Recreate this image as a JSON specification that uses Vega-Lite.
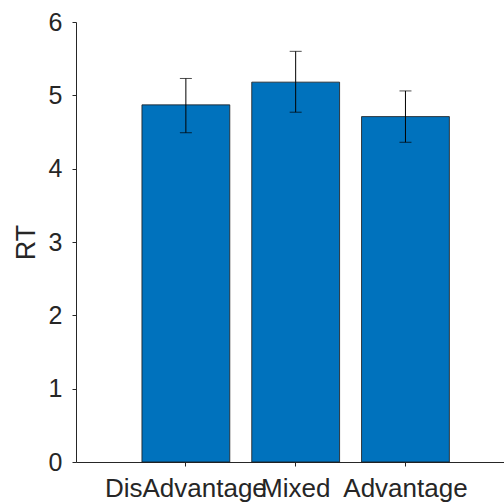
{
  "$schema": "https://vega.github.io/schema/vega-lite/v6.json",
  "width": 428,
  "height": 440,
  "autosize": {"type": "none"},
  "padding": {"left": 76, "top": 22, "right": 0, "bottom": 42},
  "background": "white",
  "config": {
    "view": {"stroke": null},
    "font": "Liberation Sans",
    "axis": {
      "domainColor": "#262626",
      "tickColor": "#262626",
      "labelColor": "#262626",
      "titleColor": "#262626",
      "labelFont": "Liberation Sans",
      "titleFont": "Liberation Sans",
      "grid": false,
      "domainWidth": 1,
      "tickWidth": 1,
      "tickSize": 4
    }
  },
  "data": {
    "values": [
      {"cond": "DisAdvantage", "rt": 4.87, "lo": 4.49, "hi": 5.23},
      {"cond": "Mixed", "rt": 5.18, "lo": 4.77, "hi": 5.6},
      {"cond": "Advantage", "rt": 4.71, "lo": 4.36, "hi": 5.06}
    ]
  },
  "encoding": {
    "x": {
      "field": "cond",
      "type": "nominal",
      "sort": ["DisAdvantage", "Mixed", "Advantage"],
      "scale": {"paddingInner": 0.2, "paddingOuter": 0.549, "align": 0.547},
      "axis": {
        "title": null,
        "labelAngle": 0,
        "labelFontSize": 26,
        "labelOverlap": false,
        "labelBound": false,
        "labelFlush": false,
        "labelLimit": 0,
        "labelPadding": 9
      }
    }
  },
  "layer": [
    {
      "mark": {"type": "bar", "color": "#0072BD", "stroke": "#1a1a1a", "strokeWidth": 1, "strokeOpacity": 0.8},
      "encoding": {
        "y": {
          "field": "rt",
          "type": "quantitative",
          "scale": {"domain": [0, 6], "nice": false, "zero": true},
          "axis": {
            "title": "RT",
            "titleFontSize": 27,
            "titleFontWeight": "normal",
            "titlePadding": 8,
            "labelFontSize": 25,
            "labelPadding": 10,
            "format": "d",
            "values": [0, 1, 2, 3, 4, 5, 6]
          }
        }
      }
    },
    {
      "mark": {"type": "rule", "color": "#000000", "strokeWidth": 1},
      "encoding": {
        "y": {"field": "lo", "type": "quantitative"},
        "y2": {"field": "hi"}
      }
    },
    {
      "mark": {"type": "tick", "color": "#000000", "size": 12, "thickness": 1, "orient": "horizontal"},
      "encoding": {"y": {"field": "lo", "type": "quantitative"}}
    },
    {
      "mark": {"type": "tick", "color": "#000000", "size": 12, "thickness": 1, "orient": "horizontal"},
      "encoding": {"y": {"field": "hi", "type": "quantitative"}}
    }
  ]
}
